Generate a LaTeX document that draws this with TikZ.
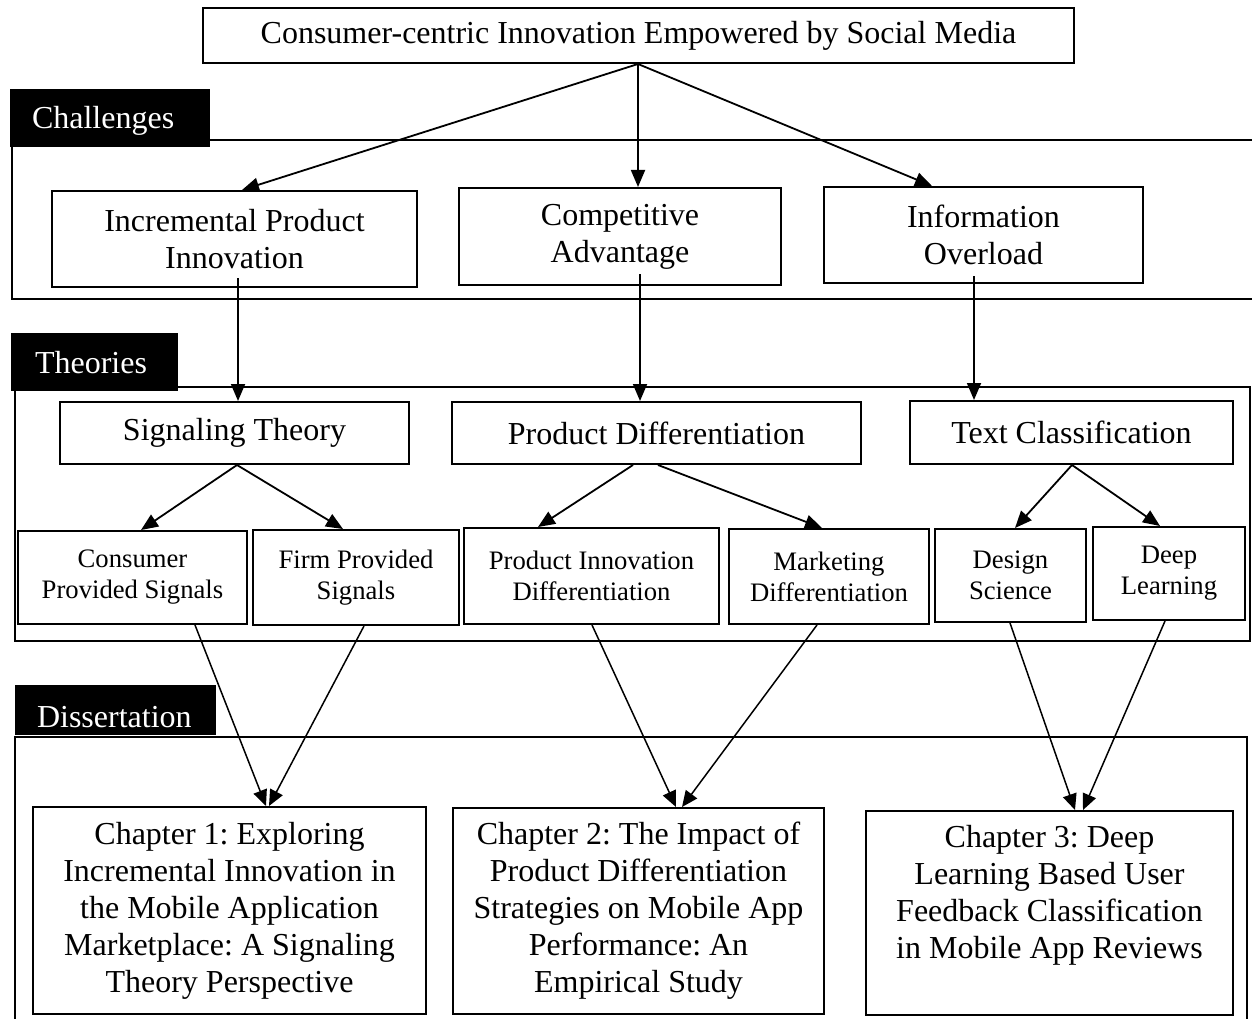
\documentclass[tikz,border=0pt]{standalone}
\usepackage{fontspec}
\setmainfont{Liberation Serif}
\usetikzlibrary{arrows.meta}
\frenchspacing

\tikzset{
  big/.style={font=\fontsize{32}{37}\selectfont},
  small/.style={font=\fontsize{26.67}{31}\selectfont},
  box/.style={draw, line width=2pt, inner sep=0pt, align=center, fill=white},
  seclabel/.style={fill=black, text=white, inner ysep=0pt, align=left,
    text depth=0pt, text height=22pt, font=\fontsize{32}{37}\selectfont},
  panel/.style={draw, line width=2pt},
  arr/.style={-{Triangle[length=17pt,width=14pt]}, line width=1.8pt},
  thinarr/.style={-{Triangle[length=16pt,width=14pt]}, line width=1.5pt}
}

\begin{document}
\begin{tikzpicture}[x=1pt, y=-1pt]
\useasboundingbox[fill=white] (0,0) rectangle (1252,1019);

% section frames
\draw[panel] (1252,140) -- (12,140) -- (12,299) -- (1252,299);
\draw[panel] (15,387) rectangle (1250,641);
\draw[panel] (15,1019) -- (15,737) -- (1247,737) -- (1247,1019);

% section labels
\node[seclabel, minimum width=200pt, minimum height=58pt, inner xsep=22pt, text width=156pt]
  (labch) at (110,118) {Challenges};
\node[seclabel, minimum width=167pt, minimum height=58pt, inner xsep=24pt, text width=119pt]
  (labth) at (94.5,362) {Theories};
\node[seclabel, minimum width=201pt, minimum height=50pt, inner xsep=22pt, text width=157pt, text height=34pt]
  (labdi) at (115.5,710) {Dissertation};

% top theme
\node[box, big, minimum width=871pt, minimum height=55pt] (top) at (638.5,35.5)
  {Consumer-centric Innovation Empowered by Social Media};

% challenges
\node[box, big, minimum width=365pt, minimum height=96pt] (ipi) at (234.5,239)
  {Incremental Product\\Innovation};
\node[box, big, minimum width=322pt, minimum height=97pt] (ca) at (620,236.5)
  {Competitive\\Advantage};
\node[box, big, minimum width=319pt, minimum height=96pt] (io) at (983.5,235)
  {Information\\Overload};

% theories
\node[box, big, minimum width=349pt, minimum height=62pt] (sig) at (234.5,433)
  {Signaling Theory};
\node[box, big, minimum width=409pt, minimum height=62pt] (pd) at (656.5,433)
  {Product Differentiation};
\node[box, big, minimum width=323pt, minimum height=63pt] (tc) at (1071.5,432.5)
  {Text Classification};

\node[box, small, minimum width=229pt, minimum height=93pt] (cps) at (132.5,577.5)
  {Consumer\\Provided Signals};
\node[box, small, minimum width=206pt, minimum height=95pt] (fps) at (356,577.5)
  {Firm Provided\\Signals};
\node[box, small, minimum width=255pt, minimum height=96pt] (pid) at (591.5,576)
  {Product Innovation\\Differentiation};
\node[box, small, minimum width=200pt, minimum height=95pt] (md) at (829,576.5)
  {Marketing\\Differentiation};
\node[box, small, minimum width=151pt, minimum height=93pt] (ds) at (1010.5,575.5)
  {Design\\Science};
\node[box, small, minimum width=152pt, minimum height=93pt] (dl) at (1169,573.5)
  {Deep\\Learning};

% dissertation chapters
\node[box, big, minimum width=393pt, minimum height=207pt] (ch1) at (229.5,910.5)
  {Chapter 1: Exploring\\Incremental Innovation in\\the Mobile Application\\Marketplace: A Signaling\\Theory Perspective};
\node[box, big, minimum width=371pt, minimum height=206pt] (ch2) at (638.5,911)
  {Chapter 2: The Impact of\\Product Differentiation\\Strategies on Mobile App\\Performance: An\\Empirical Study};
\node[box, big, minimum width=367pt, minimum height=204pt] (ch3) at (1049.5,913)
  {Chapter 3: Deep\\Learning Based User\\Feedback Classification\\in Mobile App Reviews\\[-6pt]\strut};

% connectors: theme to challenges
\draw[arr] ([xshift=-0.5pt]top.south) -- ([xshift=7.5pt]ipi.north);
\draw[arr] ([xshift=-0.5pt]top.south) -- ([xshift=-0.5pt]top.south |- ca.north);
\draw[arr] ([xshift=-0.5pt]top.south) -- ([xshift=-51.5pt]io.north);

% challenges to theories
\draw[arr] ([xshift=3.5pt,yshift=10pt]ipi.south) -- ([xshift=3.5pt]sig.north);
\draw[arr] ([xshift=20pt,yshift=12pt]ca.south) -- ([xshift=-16.5pt]pd.north);
\draw[arr] ([xshift=-9.5pt,yshift=8pt]io.south) -- ([xshift=-97.5pt]tc.north);

% theories to sub-theories
\draw[arr] ([xshift=2.5pt]sig.south) -- ([xshift=8.5pt]cps.north);
\draw[arr] ([xshift=2.5pt]sig.south) -- ([xshift=-13pt]fps.north);
\draw[arr] ([xshift=-23.5pt]pd.south) -- ([xshift=-53.5pt]pid.north);
\draw[arr] ([xshift=1.5pt]pd.south) -- ([xshift=-7pt]md.north);
\draw[arr] ([xshift=0.5pt]tc.south) -- ([xshift=4.5pt]ds.north);
\draw[arr] ([xshift=0.5pt]tc.south) -- ([xshift=-9pt]dl.north);

% sub-theories to chapters
\draw[thinarr] ([xshift=62.5pt]cps.south) -- ([xshift=36.5pt]ch1.north);
\draw[thinarr] ([xshift=8pt]fps.south) -- ([xshift=39.5pt]ch1.north);
\draw[thinarr] ([xshift=0.5pt]pid.south) -- ([xshift=37.5pt]ch2.north);
\draw[thinarr] ([xshift=-12pt]md.south) -- ([xshift=43.5pt]ch2.north);
\draw[thinarr] ([xshift=-0.5pt]ds.south) -- ([xshift=25.5pt]ch3.north);
\draw[thinarr] ([xshift=-4pt]dl.south) -- ([xshift=33.5pt]ch3.north);
\end{tikzpicture}
\end{document}
